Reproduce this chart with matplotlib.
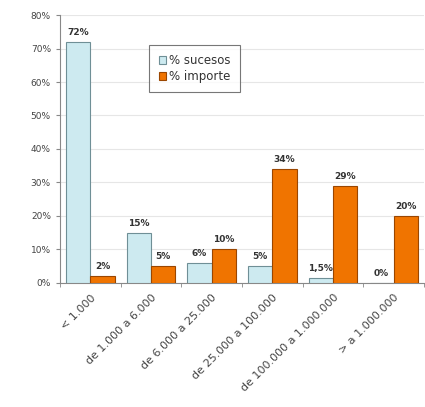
import numpy as np
import matplotlib.pyplot as plt

categorias = ['< 1.000', 'de 1.000 a 6.000', 'de 6.000 a 25.000', 'de 25.000 a 100.000',
              'de 100.000 a 1.000.000', '> a 1.000.000']
sucesos = [72, 15, 6, 5, 1.5, 0]
importe = [2, 5, 10, 34, 29, 20]
etiq_sucesos = ['72%', '15%', '6%', '5%', '1,5%', '0%']
etiq_importe = ['2%', '5%', '10%', '34%', '29%', '20%']

fig = plt.figure(figsize=(4.25, 4.07), dpi=100)
ax = fig.add_axes([0.141, 0.305, 0.857, 0.658])

x = np.arange(len(categorias))
w = 0.4
ax.bar(x - w / 2, sucesos, w, color='#cdeaf0', edgecolor='#6f8f96', linewidth=0.8,
       label='% sucesos', zorder=3)
ax.bar(x + w / 2, importe, w, color='#f07400', edgecolor='#9a4600', linewidth=0.8,
       label='% importe', zorder=3)

for i in range(len(x)):
    ax.text(x[i] - w / 2, sucesos[i] + 1.5, etiq_sucesos[i], ha='center', va='bottom',
            fontsize=6.5, fontweight='bold', color='#333333')
    ax.text(x[i] + w / 2, importe[i] + 1.5, etiq_importe[i], ha='center', va='bottom',
            fontsize=6.5, fontweight='bold', color='#333333')

ax.set_ylim(0, 80)
ax.set_xlim(-0.5, len(categorias) - 0.5)
ax.set_yticks(range(0, 81, 10))
ax.set_yticklabels([f'{v}%' for v in range(0, 81, 10)], fontsize=6.5, color='#444444')
ax.yaxis.grid(True, color='#e6e6e6', linewidth=0.8, zorder=0)

ax.set_xticks(x)
ax.set_xticklabels(categorias, rotation=45, ha='right', rotation_mode='anchor',
                   fontsize=8, color='#444444')
ax.tick_params(axis='x', length=0, pad=7)
ax.set_xticks(np.arange(-0.5, len(categorias), 1), minor=True)
ax.tick_params(axis='x', which='minor', length=3, color='#888888')
ax.tick_params(axis='y', length=3, color='#888888')

for s in ['top', 'right']:
    ax.spines[s].set_visible(False)
ax.spines['left'].set_color('#888888')
ax.spines['bottom'].set_color('#888888')

leg = ax.legend(loc='upper left', bbox_to_anchor=(0.245, 0.89), fontsize=8.5,
                frameon=True, fancybox=False, edgecolor='#555555',
                handlelength=0.6, handleheight=0.6, handletextpad=0.3,
                borderpad=0.8, labelspacing=0.25, borderaxespad=0)
leg.get_frame().set_linewidth(0.8)
for t in leg.get_texts():
    t.set_color('#333333')

plt.savefig('out.png', dpi=100)
